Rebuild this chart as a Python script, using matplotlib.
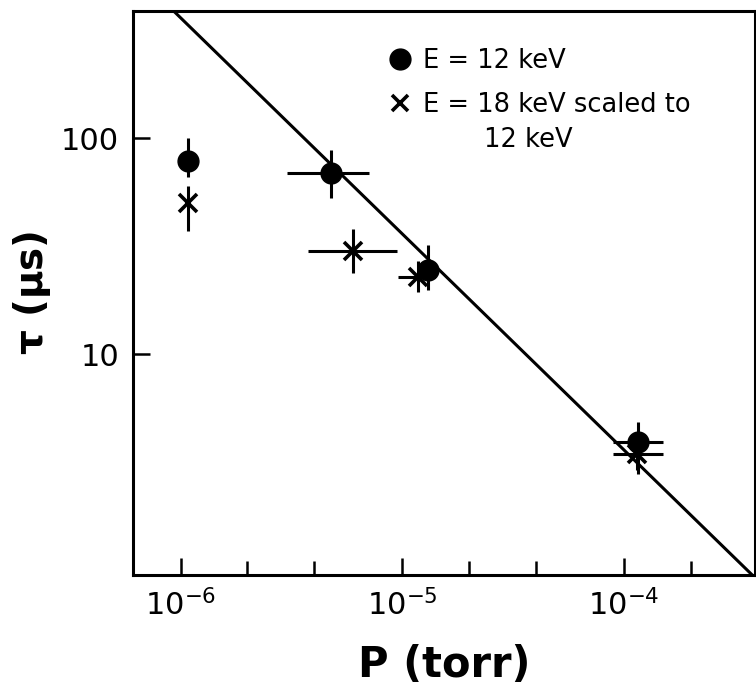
import numpy as np
import matplotlib
matplotlib.use('Agg')
import matplotlib.pyplot as plt
from matplotlib.lines import Line2D

# E = 12 keV (circles)
p_12 = [1.08e-6, 4.75e-6, 1.30e-5, 1.16e-4]
tau_12 = [78, 69, 24.5, 3.9]
tau_12_lo = [66, 53, 19.8, 2.8]
tau_12_hi = [100, 88, 32, 4.85]
p_12_lo = [1.08e-6, 3.03e-6, 1.30e-5, 0.89e-4]
p_12_hi = [1.08e-6, 7.1e-6, 1.30e-5, 1.50e-4]

# E = 18 keV scaled to 12 keV (crosses)
p_18 = [1.08e-6, 6.0e-6, 1.18e-5, 1.14e-4]
tau_18 = [50, 30, 22.7, 3.45]
tau_18_lo = [37, 23.7, 19.4, 2.9]
tau_18_hi = [60, 38, 27, 4.2]
p_18_lo = [1.08e-6, 3.77e-6, 0.96e-5, 0.89e-4]
p_18_hi = [1.08e-6, 9.5e-6, 1.40e-5, 1.50e-4]

# fitted line tau = C / P
fit_c = 3.6e-4
xticks = [1e-6, 1e-5, 1e-4]
xticklabels = [r'$10^{-6}$', r'$10^{-5}$', r'$10^{-4}$']
yticks = [10, 100]
yticklabels = ['10', '100']

fig = plt.figure(figsize=(7.56, 6.89), dpi=100)
ax = fig.add_axes([133/756, 1-575/689, 622/756, 564/689])
ax.set_xscale('log')
ax.set_yscale('log')
ax.set_xlim(6.1e-7, 3.9e-4)
ax.set_ylim(0.95, 387)

px = np.logspace(-7, -3, 50)
ax.plot(px, fit_c/px, color='black', lw=2.2)

def errbars(p, t, plo, phi, tlo, thi):
    p = np.array(p); t = np.array(t)
    xerr = [p - np.array(plo), np.array(phi) - p]
    yerr = [t - np.array(tlo), np.array(thi) - t]
    ax.errorbar(p, t, xerr=xerr, yerr=yerr, fmt='none', ecolor='black',
                elinewidth=2.2, capsize=0)

errbars(p_12, tau_12, p_12_lo, p_12_hi, tau_12_lo, tau_12_hi)
errbars(p_18, tau_18, p_18_lo, p_18_hi, tau_18_lo, tau_18_hi)
ax.plot(p_12, tau_12, 'o', color='black', ms=15)
ax.plot(p_18, tau_18, 'x', color='black', ms=13, mew=2.6)

ax.set_xticks(xticks)
ax.set_xticklabels(xticklabels, fontsize=22)
ax.set_xticks([2e-6, 4e-6, 2e-5, 4e-5, 2e-4], minor=True)
ax.xaxis.set_minor_formatter(matplotlib.ticker.NullFormatter())
ax.set_yticks(yticks)
ax.set_yticklabels(yticklabels, fontsize=22)
ax.set_yticks([], minor=True)
ax.tick_params(which='both', direction='in', width=1.8)
ax.tick_params(which='major', length=12, pad=10)
ax.tick_params(which='minor', length=10)
for s in ax.spines.values():
    s.set_linewidth(2.2)

ax.set_xlabel('P (torr)', fontsize=30, fontweight='bold', labelpad=16)
ax.set_ylabel(r'$\mathbf{\tau}$ ($\mathbf{\mu}$s)', fontsize=28, fontweight='bold', labelpad=6)

handles = [Line2D([], [], marker='o', ls='none', color='black', ms=15),
           Line2D([], [], marker='x', ls='none', color='black', ms=11, mew=2.6)]
labels = ['E = 12 keV', 'E = 18 keV scaled to']
leg = ax.legend(handles, labels, loc='upper left', bbox_to_anchor=(0.375, 0.975),
                frameon=False, fontsize=18.5, handlelength=0.8, handletextpad=0.5,
                labelspacing=0.7)
ax.text(0.565, 0.771, '12 keV', transform=ax.transAxes, fontsize=18.5, va='center', ha='left')

fig.savefig('out.png', dpi=100)
